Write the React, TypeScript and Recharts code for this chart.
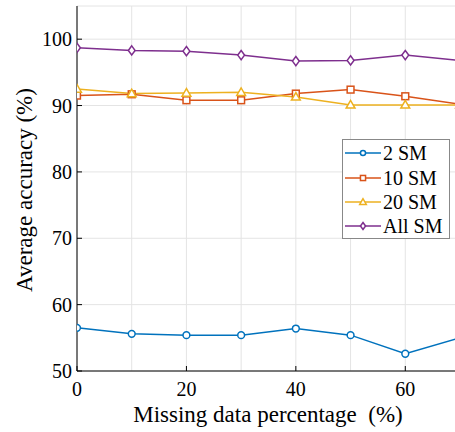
import React from 'react';
import { LineChart, Line, XAxis, YAxis, CartesianGrid, Legend, Label } from 'recharts';

const missing = [0, 10, 20, 30, 40, 50, 60, 70];
const sm2 = [56.5, 55.6, 55.4, 55.4, 56.4, 55.4, 52.6, 55.0];
const sm10 = [91.5, 91.7, 90.8, 90.8, 91.8, 92.4, 91.4, 90.2];
const sm20 = [92.5, 91.8, 91.9, 92.0, 91.3, 90.1, 90.1, 90.1];
const smAll = [98.7, 98.3, 98.2, 97.6, 96.7, 96.8, 97.6, 96.8];
const xTicks = [0, 20, 40, 60];
const yTicks = [50, 60, 70, 80, 90, 100];

const rows = missing.map((x, i) => ({ x, sm2: sm2[i], sm10: sm10[i], sm20: sm20[i], smAll: smAll[i] }));

const FONT = 'Liberation Serif, Tinos, Times New Roman, DejaVu Serif, serif';

type Shape = 'circle' | 'square' | 'triangle' | 'diamond';

const series: { key: string; name: string; color: string; shape: Shape }[] = [
  { key: 'sm2', name: '2 SM', color: '#0072BD', shape: 'circle' },
  { key: 'sm10', name: '10 SM', color: '#D95319', shape: 'square' },
  { key: 'sm20', name: '20 SM', color: '#EDB120', shape: 'triangle' },
  { key: 'smAll', name: 'All SM', color: '#7E2F8E', shape: 'diamond' },
];

function marker(shape: Shape, cx: number, cy: number, color: string, s: number, key?: string) {
  const common = { fill: '#fff', stroke: color, strokeWidth: 1.5 } as any;
  if (shape === 'circle') return <circle key={key} cx={cx} cy={cy} r={s * 0.85} {...common} />;
  if (shape === 'square') return <rect key={key} x={cx - s * 0.85} y={cy - s * 0.85} width={s * 1.7} height={s * 1.7} {...common} />;
  if (shape === 'triangle')
    return <polygon key={key} points={`${cx},${cy - s * 1.1} ${cx - s * 1.1},${cy + s * 0.8} ${cx + s * 1.1},${cy + s * 0.8}`} {...common} />;
  return <polygon key={key} points={`${cx},${cy - s * 1.15} ${cx + s * 0.85},${cy} ${cx},${cy + s * 1.15} ${cx - s * 0.85},${cy}`} {...common} />;
}

const LegendBox = () => (
  <div style={{ width: 108, height: 100, boxSizing: 'border-box', border: '1px solid #888', background: '#fff', paddingTop: 1 }}>
    {series.map((s) => (
      <div key={s.key} style={{ display: 'flex', alignItems: 'center', height: 24.4 }}>
        <svg width={40} height={14} style={{ display: 'block', flex: 'none' }}>
          <line x1={2} x2={38} y1={7} y2={7} stroke={s.color} strokeWidth={1.5} />
          {marker(s.shape, 20, 7, s.color, 3)}
        </svg>
        <span style={{ fontFamily: FONT, fontSize: 20, color: '#000', lineHeight: '20px', whiteSpace: 'nowrap' }}>{s.name}</span>
      </div>
    ))}
  </div>
);

export default function App() {
  return (
    <div style={{ position: 'absolute', left: 0, top: 0, width: 455, height: 432, overflow: 'hidden', background: '#fff', fontFamily: FONT }}>
      <LineChart width={480} height={432} data={rows} margin={{ top: 6, right: 20, bottom: 1, left: 0 }}>
        <CartesianGrid stroke="#e4e4e4" strokeWidth={1} />
        <XAxis
          xAxisId="bottom"
          dataKey="x"
          type="number"
          domain={[0, 70]}
          ticks={xTicks}
          height={60}
          axisLine={{ stroke: '#000', strokeWidth: 1 }}
          tickLine={{ stroke: '#000' }}
          tickSize={-5}
          tickMargin={16}
          tick={{ fontFamily: FONT, fontSize: 20, fill: '#000' }}
          allowDataOverflow
        >
          <Label
            content={() => (
              <text x={268} y={422} textAnchor="middle" fontFamily={FONT} fontSize={23} fill="#000" style={{ whiteSpace: 'pre', fontFamily: FONT }}>
                {'Missing data percentage  (%)'}
              </text>
            )}
          />
        </XAxis>
        <XAxis
          xAxisId="top"
          orientation="top"
          dataKey="x"
          type="number"
          domain={[0, 70]}
          ticks={xTicks}
          height={0}
          axisLine={{ stroke: '#000', strokeWidth: 1 }}
          tickLine={{ stroke: '#000' }}
          tickSize={-5}
          tick={() => <g />}
        />
        <YAxis
          type="number"
          domain={[50, 105]}
          ticks={yTicks}
          width={77}
          axisLine={{ stroke: '#000', strokeWidth: 1 }}
          tickLine={{ stroke: '#000' }}
          tickSize={-5}
          tickMargin={10}
          tick={{ fontFamily: FONT, fontSize: 20, fill: '#000' }}
          allowDataOverflow
        >
          <Label
            content={() => (
              <text x={32} y={190} transform="rotate(-90 32 190)" textAnchor="middle" fontFamily={FONT} fontSize={23} fill="#000" style={{ fontFamily: FONT }}>
                Average accuracy (%)
              </text>
            )}
          />
        </YAxis>
        {series.map((s) => (
          <Line
            key={s.key}
            xAxisId="bottom"
            dataKey={s.key}
            name={s.name}
            stroke={s.color}
            strokeWidth={1.5}
            isAnimationActive={false}
            dot={(p: any) => marker(s.shape, p.cx, p.cy, s.color, 4, `${s.key}-${p.index}`)}
            activeDot={false}
          />
        ))}
        <Legend
          layout="horizontal"
          verticalAlign="middle"
          align="center"
          content={() => <LegendBox />}
          wrapperStyle={{ left: 342, top: 139, width: 108, height: 100 }}
        />
      </LineChart>
    </div>
  );
}
